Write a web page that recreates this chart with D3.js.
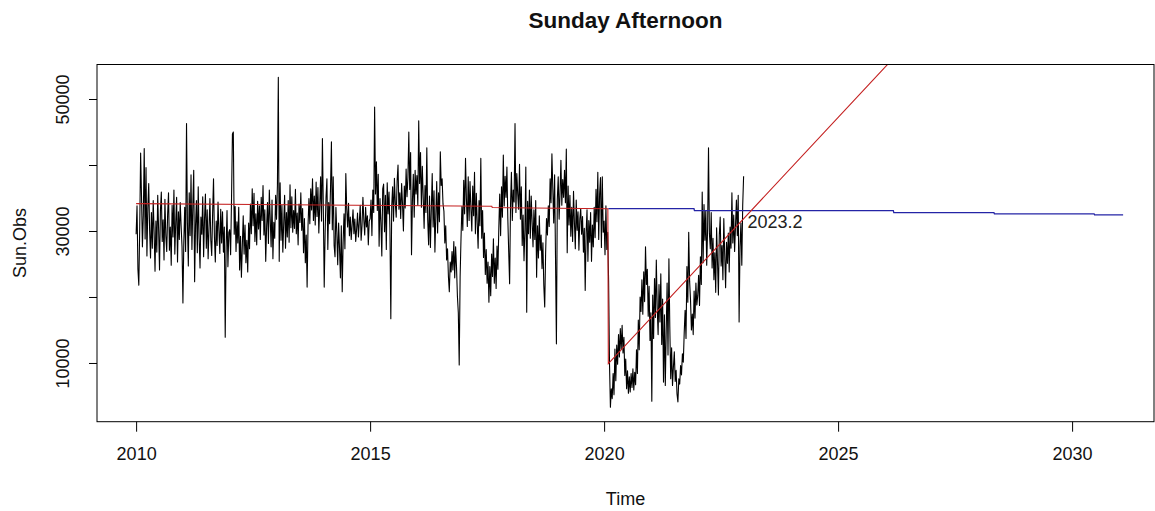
<!DOCTYPE html>
<html>
<head>
<meta charset="utf-8">
<script src="https://cdn.jsdelivr.net/npm/d3@7"></script>
<style>
  html, body { margin: 0; padding: 0; background: #fff; }
  #chart { width: 1155px; height: 511px; }
  text { font-family: "Liberation Sans", Arial, sans-serif; }
</style>
</head>
<body>
<div id="chart"></div>
<script>
// weekly Sunday afternoon observations, one array per year (52 weeks each)
const obs2010 = [29500, 33800, 24200, 21800, 30500, 41800, 35200, 27600, 32400, 42500, 28800, 39600, 26200, 33500, 37200, 30100, 25900, 32800, 27400, 34600, 29800, 23900, 31500, 26800, 35400, 30200, 24100, 33100, 35900, 28400, 31700, 25600, 34800, 29300, 26900, 32500, 35800, 27100, 30600, 24800, 33900, 29100, 36200, 26500, 31300, 35100, 25300, 32900, 28700, 34300, 30800, 27600];
const obs2011 = [19100, 28400, 33600, 26900, 46300, 31200, 24700, 35800, 29300, 38500, 27200, 33900, 39200, 22300, 30800, 34600, 26700, 36700, 28900, 24400, 32100, 29500, 35200, 26100, 31800, 35600, 27400, 33200, 25800, 30400, 34900, 28600, 26300, 32700, 37900, 29100, 25300, 31500, 27800, 34400, 30100, 26600, 33300, 28200, 32900, 26800, 30600, 13900, 27500, 33100, 24600, 29800];
const obs2012 = [30200, 26400, 34800, 44700, 45000, 29500, 33700, 26900, 31400, 28200, 33600, 24100, 29200, 23000, 27800, 32300, 26500, 30900, 25200, 28600, 23800, 31200, 27300, 34100, 29600, 36400, 30800, 35700, 28400, 32600, 27900, 34500, 30300, 33800, 28700, 35100, 31600, 36900, 29400, 33200, 25400, 30700, 34300, 28100, 36200, 31800, 27600, 34700, 25800, 31300, 28900, 35400];
const obs2013 = [31800, 36900, 53300, 25400, 37300, 28600, 33900, 26800, 31200, 35400, 27400, 32800, 29100, 34600, 28300, 37000, 30500, 35200, 29800, 33100, 30400, 36300, 29600, 32700, 27900, 34100, 31300, 35800, 30100, 33400, 26700, 31900, 25200, 29400, 21500, 30700, 34900, 31100, 36400, 33200, 37900, 31600, 35300, 30900, 37400, 32200, 36600, 29700, 33800, 38200, 31500, 44000];
const obs2014 = [33400, 21500, 29700, 35100, 37900, 27200, 34300, 31100, 36500, 43500, 30200, 38200, 27800, 26100, 33600, 29800, 24900, 31200, 27400, 22900, 30800, 20800, 28300, 32600, 27300, 38700, 33400, 30600, 34200, 29300, 32100, 28700, 30900, 33200, 29600, 31800, 28400, 30300, 32700, 29100, 31400, 33900, 28600, 30800, 35100, 31700, 29400, 33600, 30600, 32300, 27900, 31500];
const obs2015 = [31900, 34700, 29300, 36200, 32800, 48800, 35600, 40500, 33100, 38600, 27700, 34900, 31300, 26200, 36400, 37100, 29900, 35400, 27200, 37300, 32600, 35900, 30400, 16700, 33800, 36700, 31500, 38000, 34200, 32100, 37600, 40000, 33300, 35800, 31900, 37200, 34100, 30000, 36800, 33500, 39400, 35200, 38100, 45000, 36300, 41900, 26400, 34500, 38600, 32100, 39200, 35600];
const obs2016 = [38400, 33900, 46700, 37200, 41900, 33600, 39800, 35100, 30400, 36900, 32800, 42600, 31700, 27900, 35300, 27500, 33200, 38700, 30600, 36100, 26800, 32400, 37500, 29700, 35800, 31400, 42000, 36900, 37900, 34100, 33000, 28200, 30800, 25600, 27300, 23100, 20800, 25300, 23800, 26900, 24100, 28400, 22900, 27600, 24500, 20100, 17600, 9700, 23000, 28900, 33700, 30100];
const obs2017 = [37700, 32600, 41000, 34900, 30700, 38200, 31600, 37500, 33400, 30000, 36800, 32300, 38900, 29600, 35700, 31200, 27400, 34600, 30800, 41000, 28900, 33100, 26000, 29700, 23400, 27200, 22100, 25300, 19200, 24600, 20200, 26500, 23100, 28800, 22100, 25900, 21300, 27700, 24200, 30400, 35600, 29300, 36700, 32100, 41500, 33800, 38300, 35100, 39700, 31900, 26800, 22000];
const obs2018 = [33900, 38900, 31600, 36200, 34400, 46300, 32800, 38700, 35600, 33300, 40100, 31800, 36700, 27800, 32400, 25500, 30100, 39700, 17700, 34500, 29600, 36200, 28900, 35300, 31400, 27600, 33200, 28700, 34600, 23000, 30800, 25900, 32300, 27100, 29400, 24300, 28200, 21700, 18500, 26600, 31900, 29400, 33800, 30700, 37900, 34300, 41700, 36400, 31200, 38500, 26000, 12900];
const obs2019 = [34800, 38200, 31800, 35600, 40700, 33900, 37800, 35100, 39200, 34300, 42400, 26700, 36800, 30900, 35400, 29200, 33600, 28400, 36000, 31300, 27300, 34700, 30100, 32900, 27100, 31800, 33400, 29500, 32200, 26800, 30400, 21000, 29700, 33200, 25400, 31600, 28300, 32800, 25400, 30900, 27600, 33600, 29000, 36300, 31400, 38900, 28700, 35600, 38100, 27500, 38200, 29800];
const obs2020 = [31500, 26400, 33800, 27200, 29800, 22400, 9800, 3300, 6100, 4600, 8400, 5200, 12100, 7300, 12700, 9800, 14300, 10900, 15200, 12100, 15700, 11500, 13900, 8100, 10600, 6100, 8800, 5400, 7900, 5600, 8400, 6300, 9100, 5900, 8600, 6700, 12000, 8400, 16500, 12000, 20000, 17800, 22600, 17400, 23800, 19300, 27600, 21900, 24200, 17100, 21600, 13400];
const obs2021 = [17600, 4200, 20300, 13700, 22800, 16900, 25600, 18400, 14300, 21900, 16200, 23500, 12800, 19700, 7100, 17300, 6600, 14900, 22100, 11200, 25800, 15400, 7600, 12300, 6600, 9400, 11700, 7200, 8900, 5300, 4100, 7600, 6800, 9600, 8200, 11400, 10100, 14600, 18000, 13700, 24600, 19200, 29800, 22400, 19600, 15000, 17400, 14300, 20900, 16800, 22100, 18800];
const obs2022 = [20200, 23300, 18700, 26100, 21900, 35900, 25200, 34000, 28600, 33100, 24800, 30400, 42600, 29600, 27300, 32800, 24400, 28900, 22600, 26700, 20700, 30500, 25300, 20300, 29400, 32100, 24700, 27800, 22600, 31900, 26400, 21400, 28300, 25100, 29700, 23800, 30600, 27400, 35800, 28200, 32400, 26900, 30800, 34700, 29300, 35400, 16200, 27600, 31200, 24800, 33900, 38300];
const obsStart = 2010;
const obsFrequency = 52;

// fitted trend (red): piecewise, breaks at 2017.6 and 2020.09
const trendYears = [2010, 2017.6, 2017.61, 2020.08, 2020.09, 2031];
const trendValues = [34150, 33750, 33550, 33380, 9900, 92800];

// forecast (blue)
const forecastYears = [2020.09, 2021.92, 2021.93, 2026.18, 2026.19, 2028.33, 2028.34, 2030.47, 2030.48, 2031.09];
const forecastValues = [33380, 33380, 33100, 33100, 32770, 32770, 32600, 32600, 32450, 32450];

const labelYear = 2023.0;
const labelValue = 31400;
const labelText = "2023.2";

const xTicks = [2010, 2015, 2020, 2025, 2030];
const yTicks = [10000, 20000, 30000, 40000, 50000];
const yTickLabels = ["10000", "", "30000", "", "50000"];

function drawChart() {
  const width = 1155, height = 511;
  const plot = { left: 97, right: 1154, top: 64.5, bottom: 421.7 };

  const svg = d3.select("#chart").append("svg")
    .attr("width", width)
    .attr("height", height)
    .attr("viewBox", `0 0 ${width} ${height}`);

  const x = d3.scaleLinear().domain([2009.164, 2031.75]).range([plot.left, plot.right]);
  const y = d3.scaleLinear().domain([1100, 55230]).range([plot.bottom, plot.top]);

  svg.append("clipPath").attr("id", "plot-clip")
    .append("rect")
    .attr("x", plot.left).attr("y", plot.top)
    .attr("width", plot.right - plot.left).attr("height", plot.bottom - plot.top);

  const observed = [obs2010, obs2011, obs2012, obs2013, obs2014, obs2015, obs2016,
    obs2017, obs2018, obs2019, obs2020, obs2021, obs2022].flat()
    .map((v, i) => ({ t: obsStart + i / obsFrequency, v: v }));
  const trend = trendYears.map((t, i) => ({ t: t, v: trendValues[i] }));
  const forecast = forecastYears.map((t, i) => ({ t: t, v: forecastValues[i] }));

  const line = d3.line().x(d => x(d.t)).y(d => y(d.v));
  const lines = svg.append("g").attr("clip-path", "url(#plot-clip)");

  lines.append("path")
    .datum(observed)
    .attr("fill", "none")
    .attr("stroke", "#000")
    .attr("stroke-width", 1.1)
    .attr("stroke-linejoin", "round")
    .attr("d", line);

  lines.append("path")
    .datum(forecast)
    .attr("fill", "none")
    .attr("stroke", "#2424a6")
    .attr("stroke-width", 1.3)
    .attr("d", line);

  lines.append("path")
    .datum(trend)
    .attr("fill", "none")
    .attr("stroke", "#c42020")
    .attr("stroke-width", 1.1)
    .attr("d", line);

  svg.append("text")
    .attr("x", x(labelYear) + 3)
    .attr("y", y(labelValue))
    .attr("dy", "0.35em")
    .attr("font-size", 18)
    .attr("fill", "#222")
    .text(labelText);

  // box
  svg.append("rect")
    .attr("x", plot.left).attr("y", plot.top)
    .attr("width", plot.right - plot.left).attr("height", plot.bottom - plot.top)
    .attr("fill", "none")
    .attr("stroke", "#000")
    .attr("stroke-width", 1);

  // x axis
  const xAxis = svg.append("g")
    .attr("transform", `translate(0,${plot.bottom})`)
    .call(d3.axisBottom(x).tickValues(xTicks).tickFormat(d3.format("d")).tickSize(10).tickPadding(16));
  xAxis.select(".domain").remove();
  xAxis.selectAll("text")
    .attr("font-size", 18)
    .attr("font-family", "Liberation Sans, Arial, sans-serif")
    .attr("fill", "#111");

  // y axis, labels rotated as in R
  const yAxis = svg.append("g")
    .attr("transform", `translate(${plot.left},0)`)
    .call(d3.axisLeft(y).tickValues(yTicks).tickFormat((d, i) => yTickLabels[i]).tickSize(8));
  yAxis.select(".domain").remove();
  yAxis.selectAll("text")
    .attr("font-size", 18)
    .attr("font-family", "Liberation Sans, Arial, sans-serif")
    .attr("fill", "#111")
    .attr("text-anchor", "middle")
    .attr("x", 0)
    .attr("y", 0)
    .attr("dy", "0.35em")
    .attr("transform", "translate(-34,0) rotate(-90)");

  svg.append("text")
    .attr("x", (plot.left + plot.right) / 2)
    .attr("y", 28)
    .attr("text-anchor", "middle")
    .attr("font-size", 22.5)
    .attr("font-weight", "bold")
    .attr("fill", "#111")
    .text("Sunday Afternoon");

  svg.append("text")
    .attr("x", (plot.left + plot.right) / 2)
    .attr("y", 505)
    .attr("text-anchor", "middle")
    .attr("font-size", 18)
    .attr("fill", "#111")
    .text("Time");

  svg.append("text")
    .attr("transform", `translate(26,${(plot.top + plot.bottom) / 2}) rotate(-90)`)
    .attr("text-anchor", "middle")
    .attr("font-size", 18)
    .attr("fill", "#111")
    .text("Sun.Obs");
}

drawChart();
</script>
</body>
</html>
